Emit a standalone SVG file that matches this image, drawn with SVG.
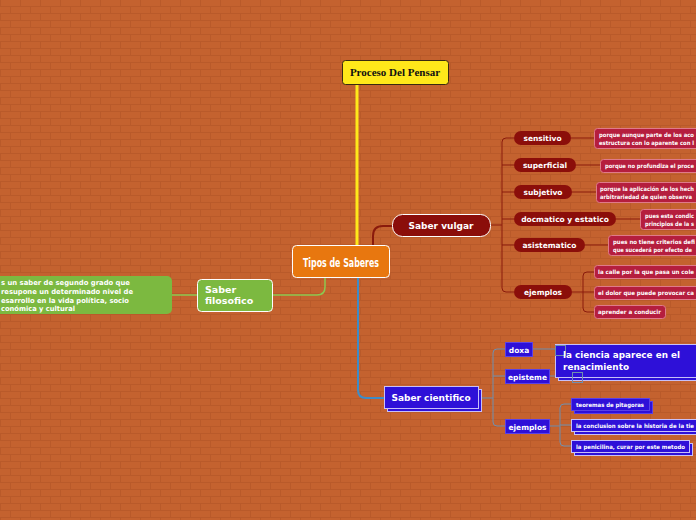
<svg xmlns="http://www.w3.org/2000/svg" width="696" height="520" viewBox="0 0 696 520">
<defs>
<pattern id="brick" width="20" height="14" patternUnits="userSpaceOnUse">
<rect width="20" height="14" fill="#C4622F"/>
<path d="M0 6.5H20M0 13.5H20M0.5 0V7M10.5 7V14" stroke="#B95A2A" stroke-width="1" fill="none"/>
</pattern>
<style>
.t{font-family:"DejaVu Sans",Verdana,sans-serif;font-weight:bold;fill:#fff}
.s{font-size:5.8px}
.vc{stroke:#8A1A0C;stroke-width:1;fill:none}
.bc{stroke:#6F8FAF;stroke-width:1;fill:none}
.rd{fill:#8B0E0A}
.pk{fill:#B51E3E;stroke:#E07A8A;stroke-width:1}
.bl{fill:#2E10D8;stroke:#5B42E6;stroke-width:1}
.bs{fill:#2E10D8;stroke:#C8C0F8;stroke-width:1}
</style>
</defs>
<rect width="696" height="520" fill="url(#brick)"/>

<g id="connectors">
<path d="M357 84V245" stroke="#FFE81A" stroke-width="3" fill="none"/>
<path d="M325 278V287Q325 295 317 295H172" stroke="#8CC850" stroke-width="1.5" fill="none"/>
<path d="M373 245V236Q373 226 383 226H392" stroke="#8A1A0C" stroke-width="2" fill="none"/>
<path d="M358 278V390Q358 398 366 398H384" stroke="#3C8CC8" stroke-width="2" fill="none"/>
<path class="vc" d="M490 225H502M502 142Q502 138 506 138H514M502 165H514M502 192H514M502 219H514M502 245H514M502 142V288Q502 292 506 292H514"/>
<path class="vc" d="M571 138H594M576 165H600M572 192H596M616 219H640M585 245H608M572 292H583M583 276Q583 272 587 272H594M583 292H594M583 276V308Q583 312 587 312H594"/>
<path class="bc" d="M481 398H493M493 353Q493 349 497 349H505M493 376H505M493 353V422Q493 426 497 426H505"/>
<path class="bc" d="M532 349H555M549 376H572M549 426H560M560 408Q560 404 564 404H571M560 425H571M560 408V442Q560 446 564 446H571"/>
</g>

<g id="proceso">
<rect x="342.5" y="60.5" width="106" height="24" rx="3" fill="#FFE81A" stroke="#3A2A10" stroke-width="1"/>
<text x="395" y="76" text-anchor="middle" font-family="Liberation Serif,serif" font-weight="bold" font-size="11" fill="#111">Proceso Del Pensar</text>
</g>

<g id="tipos">
<rect x="292.5" y="245.5" width="97" height="32" rx="4" fill="#E8770F" stroke="#FFFFFF" stroke-width="1"/>
<text x="341" y="266.5" text-anchor="middle" font-family="DejaVu Sans Condensed,Liberation Sans Narrow,sans-serif" font-weight="bold" font-size="12" fill="#fff" textLength="76" lengthAdjust="spacingAndGlyphs">Tipos de Saberes</text>
</g>

<g id="filosofico">
<rect x="197.5" y="279.5" width="75" height="32" rx="4" fill="#7CB940" stroke="#FFFFFF" stroke-width="1"/>
<text class="t" font-size="9.5" x="205" y="293">Saber</text>
<text class="t" font-size="9.5" x="205" y="304">filosofico</text>
</g>

<g id="filosofico-nota">
<rect x="-10" y="276" width="182" height="38" rx="5" fill="#7CB940"/>
<text class="t" font-size="7" x="1" y="285" textLength="129" lengthAdjust="spacingAndGlyphs">s un saber de segundo grado que</text>
<text class="t" font-size="7" x="1" y="294" textLength="132" lengthAdjust="spacingAndGlyphs">resupone un determinado nivel de</text>
<text class="t" font-size="7" x="1" y="302.5" textLength="128" lengthAdjust="spacingAndGlyphs">esarrollo en la vida política, socio</text>
<text class="t" font-size="7" x="1" y="311" textLength="74" lengthAdjust="spacingAndGlyphs">conómica y cultural</text>
</g>

<g id="vulgar">
<rect x="392.5" y="214.5" width="98" height="22" rx="10" fill="#8B0E0A" stroke="#FFFFFF" stroke-width="1"/>
<text class="t" font-size="9" x="441" y="229" text-anchor="middle">Saber vulgar</text>
</g>

<g id="sensitivo">
<rect class="rd" x="514" y="131" width="57" height="14" rx="7"/>
<text class="t" font-size="7.5" x="542.5" y="141" text-anchor="middle">sensitivo</text>
</g>
<g id="superficial">
<rect class="rd" x="514" y="158" width="62" height="14" rx="7"/>
<text class="t" font-size="7.5" x="545" y="168" text-anchor="middle">superficial</text>
</g>
<g id="subjetivo">
<rect class="rd" x="514" y="185" width="58" height="14" rx="7"/>
<text class="t" font-size="7.5" x="543" y="195" text-anchor="middle">subjetivo</text>
</g>
<g id="docmatico">
<rect class="rd" x="514" y="212" width="102" height="14" rx="7"/>
<text class="t" font-size="7.5" x="565" y="222" text-anchor="middle">docmatico y estatico</text>
</g>
<g id="asistematico">
<rect class="rd" x="514" y="238" width="71" height="14" rx="7"/>
<text class="t" font-size="7.5" x="549.5" y="248" text-anchor="middle">asistematico</text>
</g>
<g id="ejemplos-vulgar">
<rect class="rd" x="514" y="285" width="58" height="14" rx="7"/>
<text class="t" font-size="7.5" x="543" y="295" text-anchor="middle">ejemplos</text>
</g>

<g id="sensitivo-det">
<rect class="pk" x="594.5" y="128.5" width="110" height="20" rx="3"/>
<text class="t s" x="599" y="136.5" textLength="95" lengthAdjust="spacingAndGlyphs">porque aunque parte de los aco</text>
<text class="t s" x="599" y="145" textLength="95" lengthAdjust="spacingAndGlyphs">estructura con lo aparente con l</text>
</g>
<g id="superficial-det">
<rect class="pk" x="600.5" y="159.5" width="104" height="13" rx="3"/>
<text class="t s" x="605" y="168" textLength="89" lengthAdjust="spacingAndGlyphs">porque no profundiza el proce</text>
</g>
<g id="subjetivo-det">
<rect class="pk" x="596.5" y="182.5" width="108" height="20" rx="3"/>
<text class="t s" x="600" y="190.5" textLength="94" lengthAdjust="spacingAndGlyphs">porque la aplicación de los hech</text>
<text class="t s" x="600" y="199" textLength="92" lengthAdjust="spacingAndGlyphs">arbitrariedad de quien observa</text>
</g>
<g id="docmatico-det">
<rect class="pk" x="640.5" y="209.5" width="64" height="20" rx="3"/>
<text class="t s" x="645" y="217.5" textLength="49" lengthAdjust="spacingAndGlyphs">pues esta condic</text>
<text class="t s" x="645" y="226" textLength="49" lengthAdjust="spacingAndGlyphs">principios de la s</text>
</g>
<g id="asistematico-det">
<rect class="pk" x="608.5" y="235.5" width="96" height="20" rx="3"/>
<text class="t s" x="613" y="243.5" textLength="82" lengthAdjust="spacingAndGlyphs">pues no tiene criterios defi</text>
<text class="t s" x="613" y="252" textLength="79" lengthAdjust="spacingAndGlyphs">que sucederá por efecto de</text>
</g>
<g id="ej-calle">
<rect class="pk" x="594.5" y="265.5" width="110" height="13" rx="3"/>
<text class="t s" x="598" y="274" textLength="96" lengthAdjust="spacingAndGlyphs">la calle por la que pasa un cole</text>
</g>
<g id="ej-dolor">
<rect class="pk" x="594.5" y="286.5" width="110" height="13" rx="3"/>
<text class="t s" x="598" y="295" textLength="96" lengthAdjust="spacingAndGlyphs">el dolor que puede provocar ca</text>
</g>
<g id="ej-conducir">
<rect class="pk" x="594.5" y="305.5" width="71" height="13" rx="3"/>
<text class="t s" x="598" y="314" textLength="63" lengthAdjust="spacingAndGlyphs">aprender a conducir</text>
</g>

<g id="cientifico">
<rect class="bs" x="387.5" y="389.5" width="94" height="22"/>
<rect class="bs" x="384.5" y="386.5" width="94" height="22"/>
<text class="t" font-size="9" x="431" y="401" text-anchor="middle">Saber cientifico</text>
</g>

<g id="doxa">
<rect class="bl" x="505.5" y="342.5" width="27" height="14"/>
<text class="t" font-size="7.5" x="519" y="352.5" text-anchor="middle">doxa</text>
</g>
<g id="episteme">
<rect class="bl" x="505.5" y="369.5" width="44" height="14"/>
<text class="t" font-size="7.5" x="527.5" y="379.5" text-anchor="middle">episteme</text>
</g>
<g id="ejemplos-cientifico">
<rect class="bl" x="505.5" y="419.5" width="44" height="14"/>
<text class="t" font-size="7.5" x="527.5" y="429.5" text-anchor="middle">ejemplos</text>
</g>

<g id="renacimiento">
<rect class="bs" x="558.5" y="347.5" width="150" height="33"/>
<rect class="bs" x="555.5" y="344.5" width="150" height="33"/>
<rect x="555.5" y="345.5" width="10" height="10" fill="none" stroke="#6F8FAF" stroke-width="1"/>
<rect x="572.5" y="372.5" width="10" height="10" fill="none" stroke="#6F8FAF" stroke-width="1"/>
<text class="t" font-size="9.5" x="563" y="358" textLength="117" lengthAdjust="spacingAndGlyphs">la ciencia aparece en el</text>
<text class="t" font-size="9.5" x="563" y="370" textLength="66" lengthAdjust="spacingAndGlyphs">renacimiento</text>
</g>

<g id="pitagoras">
<rect class="bl" x="574.5" y="401.5" width="78" height="12"/>
<rect class="bl" x="571.5" y="398.5" width="78" height="12" stroke="#8C7CF0"/>
<text class="t s" x="576" y="407" textLength="68" lengthAdjust="spacingAndGlyphs">teoremas de pitagoras</text>
</g>
<g id="conclusion">
<rect class="bs" x="574.5" y="422.5" width="130" height="12"/>
<rect class="bs" x="571.5" y="419.5" width="130" height="12"/>
<text class="t s" x="576" y="428" textLength="118" lengthAdjust="spacingAndGlyphs">la conclusion sobre la historia de la tie</text>
</g>
<g id="penicilina">
<rect class="bs" x="574.5" y="443.5" width="118" height="12"/>
<rect class="bs" x="571.5" y="440.5" width="118" height="12"/>
<text class="t s" x="576" y="449" textLength="109" lengthAdjust="spacingAndGlyphs">la penicilina, curar por este metodo</text>
</g>
</svg>
